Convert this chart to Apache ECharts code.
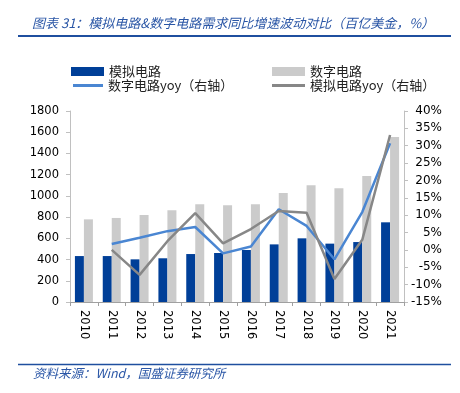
<!DOCTYPE html>
<html><head><meta charset="utf-8">
<script src="https://cdn.jsdelivr.net/npm/echarts@6/dist/echarts.min.js"></script>
<style>html,body{margin:0;padding:0;background:#fff}#c{width:460px;height:393px}</style>
</head><body><div id="c"></div>
<script>
const years = ['2010','2011','2012','2013','2014','2015','2016','2017','2018','2019','2020','2021'];
const analog = [433, 433, 402, 412, 452, 462, 490, 543, 600, 550, 565, 751];
const digital = [779, 792, 820, 864, 921, 911, 921, 1027, 1100, 1071, 1187, 1555];
const digitalYoy = [null, 1.7, 3.5, 5.4, 6.6, -1.0, 1.0, 11.7, 6.9, -2.7, 10.9, 30.7];
const analogYoy = [null, 0.0, -7.2, 2.5, 10.6, 1.9, 6.0, 11.2, 10.7, -8.4, 2.9, 33.1];
const leftTicks = {min: 0, max: 1800, interval: 200};
const rightTicks = {min: -15, max: 40, interval: 5};

const FONT = 'DejaVu Sans';
const CJK = '"Noto Sans CJK SC"';
const chart = echarts.init(document.getElementById('c'), null, {renderer: 'canvas'});
const legendText = {fontFamily: CJK, fontSize: 13, color: '#222'};
chart.setOption({
  animation: false,
  title: [{
    text: '图表 31：模拟电路&数字电路需求同比增速波动对比（百亿美金，%）',
    left: 27, top: 12,
    textStyle: {fontFamily: CJK, fontStyle: 'italic', fontWeight: 'normal', fontSize: 13, color: '#2a56a6'}
  }, {
    text: '资料来源：Wind，国盛证券研究所',
    left: 28, top: 362,
    textStyle: {fontFamily: CJK, fontStyle: 'italic', fontWeight: 'normal', fontSize: 12.5, color: '#2a56a6'}
  }],
  graphic: [
    {type: 'line', shape: {x1: 18, y1: 36, x2: 451, y2: 36}, style: {stroke: '#1f4f9f', lineWidth: 2}},
    {type: 'line', shape: {x1: 18, y1: 364.5, x2: 451, y2: 364.5}, style: {stroke: '#1f4f9f', lineWidth: 1.5}}
  ],
  legend: [
    {data: ['模拟电路'], left: 71, top: 65, padding: 0, itemWidth: 33, itemHeight: 9, icon: 'rect', textStyle: legendText},
    {data: ['数字电路'], left: 272, top: 65, padding: 0, itemWidth: 33, itemHeight: 9, icon: 'rect', textStyle: legendText},
    {data: ['数字电路yoy（右轴）'], left: 73, top: 79, padding: 0, itemWidth: 30, itemHeight: 3, icon: 'rect', textStyle: legendText},
    {data: ['模拟电路yoy（右轴）'], left: 272, top: 79, padding: 0, itemWidth: 33, itemHeight: 3, icon: 'rect', textStyle: legendText}
  ],
  grid: {left: 70, right: 56, top: 111, bottom: 91},
  xAxis: {
    type: 'category', data: years,
    axisLine: {lineStyle: {color: '#a0a0a0', width: 1}},
    axisTick: {show: true, alignWithLabel: false, length: 4, lineStyle: {color: '#a0a0a0'}},
    axisLabel: {rotate: -90, margin: 8, fontFamily: FONT, fontSize: 11.5, color: '#000'}
  },
  yAxis: [{
    type: 'value', min: leftTicks.min, max: leftTicks.max, interval: leftTicks.interval,
    splitLine: {show: false},
    axisLine: {show: true, lineStyle: {color: '#c0c0c0'}},
    axisTick: {show: true, length: 4, lineStyle: {color: '#c0c0c0'}},
    axisLabel: {fontFamily: FONT, fontSize: 11.5, color: '#000', margin: 11, formatter: v => String(v)}
  }, {
    type: 'value', position: 'right', min: rightTicks.min, max: rightTicks.max, interval: rightTicks.interval,
    splitLine: {show: false},
    axisLine: {show: true, lineStyle: {color: '#c0c0c0'}},
    axisTick: {show: true, length: 4, lineStyle: {color: '#c0c0c0'}},
    axisLabel: {fontFamily: FONT, fontSize: 12, color: '#000', formatter: '{value}%', align: 'right', margin: 38}
  }],
  series: [
    {name: '模拟电路', type: 'bar', data: analog, barWidth: 9, barGap: '0%', itemStyle: {color: '#003f98'}},
    {name: '数字电路', type: 'bar', data: digital, barWidth: 9, barGap: '0%', itemStyle: {color: '#cbcbcb'}},
    {name: '数字电路yoy（右轴）', type: 'line', yAxisIndex: 1, data: digitalYoy, symbol: 'none', z: 5,
     lineStyle: {color: '#4a86d2', width: 2.5}, itemStyle: {color: '#4a86d2'}},
    {name: '模拟电路yoy（右轴）', type: 'line', yAxisIndex: 1, data: analogYoy, symbol: 'none', z: 5,
     lineStyle: {color: '#878787', width: 2.5}, itemStyle: {color: '#878787'}}
  ]
});
</script></body></html>
